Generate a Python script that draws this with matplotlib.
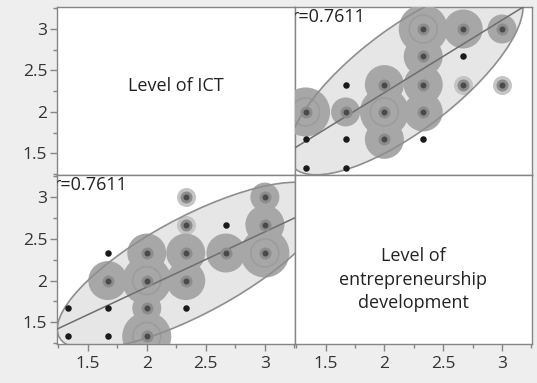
import numpy as np
import matplotlib.pyplot as plt
from matplotlib.patches import Ellipse
from matplotlib.ticker import MultipleLocator

plt.rcParams['font.family'] = ['Open Sans', 'DejaVu Sans']

# data (x = Level of ICT, y = Level of entrepreneurship development)
ict_vals = [1.33, 1.67, 2.0, 1.33, 1.67, 2.0, 2.33, 1.67, 2.0, 2.33,
            1.67, 2.0, 2.33, 2.67, 3.0, 2.33, 2.67, 3.0, 2.33, 3.0]
ent_vals = [1.33, 1.33, 1.33, 1.67, 1.67, 1.67, 1.67, 2.0, 2.0, 2.0,
            2.33, 2.33, 2.33, 2.33, 2.33, 2.67, 2.67, 2.67, 3.0, 3.0]
# local density level shown by the grey shading (0 = none, 4 = highest)
density_lvl = [0, 0, 4, 0, 0, 2, 0, 3, 4, 3,
               0, 3, 3, 3, 4, 1, 0, 3, 1, 2]

# summary statistics behind the density ellipse and the fit line
mean_ict = 2.39
mean_ent = 2.18
sd_ict = 0.469
sd_ent = 0.408
r_value = 0.7611

var_names = ['Level of ICT', 'Level of\nentrepreneurship\ndevelopment']
tick_vals = [1.5, 2, 2.5, 3]
tick_labels = ['1.5', '2', '2.5', '3']

W, H = 537, 383
fig = plt.figure(figsize=(W / 100, H / 100), dpi=100)
fig.patch.set_facecolor('#eeeeee')

def px(d):
    # marker size for a circle d pixels wide
    return (d * 0.72) ** 2

col_x = [57 / W, 295 / W]
col_w = [238 / W, 237 / W]
row_y = [(H - 175) / H, (H - 344) / H]
row_h = [168 / H, 169 / H]

def scatter_cell(ax, x, y, mx, my, sx, sy):
    x = np.array(x)
    y = np.array(y)
    lvl = np.array(density_lvl)

    # 95% density ellipse
    cov = np.array([[sx ** 2, r_value * sx * sy], [r_value * sx * sy, sy ** 2]])
    evals, evecs = np.linalg.eigh(cov)
    chi2 = 5.991
    angle = np.degrees(np.arctan2(evecs[1, 1], evecs[0, 1]))
    w = 2 * np.sqrt(chi2 * evals[1])
    h = 2 * np.sqrt(chi2 * evals[0])
    ax.add_patch(Ellipse((mx, my), w, h, angle=angle, facecolor='#e6e6e6',
                         edgecolor='none', zorder=1))

    # nonparametric density shading
    dense = lvl >= 2
    d = 10 * lvl[dense] + 9
    ax.scatter(x[lvl == 1], y[lvl == 1], s=px(19), color='#c4c4c4', lw=0, zorder=2)
    ax.scatter(x[dense], y[dense], s=px(d), color='#a7a7a7', lw=0, zorder=3)
    m = lvl == 4
    ax.scatter(x[m], y[m], s=px(28), facecolor='none', edgecolor='#9c9c9c', lw=1.2, zorder=3)

    ax.add_patch(Ellipse((mx, my), w, h, angle=angle, facecolor='none',
                         edgecolor='#8e8e8e', lw=1.2, zorder=4))

    # regression line
    slope = r_value * sy / sx
    xs = np.array([1.0, 3.6])
    ax.plot(xs, my + slope * (xs - mx), color='#6e6e6e', lw=1.1, zorder=5)

    m = lvl > 0
    ax.scatter(x[m], y[m], s=px(12), color='#8c8c8c', lw=0, zorder=6)
    ax.scatter(x[m], y[m], s=px(6), color='#4a4a4a', lw=0, zorder=7)
    ax.scatter(x[~m], y[~m], s=px(6.5), color='#1a1a1a', lw=0, zorder=7)

    ax.text(-0.014, 0.995, f'r={r_value:.4f}', transform=ax.transAxes, ha='left', va='top',
            fontsize=13, color='#222222', clip_on=True, zorder=8)

for i in range(2):
    for j in range(2):
        ax = fig.add_axes([col_x[j], row_y[i], col_w[j], row_h[i]])
        ax.set_facecolor('white')
        ax.set_xlim(1.24, 3.255)
        ax.set_ylim(1.24, 3.265)
        for sp in ax.spines.values():
            sp.set_color('#858585')
            sp.set_linewidth(1.0)
        ax.set_xticks(tick_vals, tick_labels)
        ax.set_yticks(tick_vals, tick_labels)
        ax.xaxis.set_minor_locator(MultipleLocator(0.25))
        ax.yaxis.set_minor_locator(MultipleLocator(0.25))
        ax.tick_params(which='major', direction='out', length=5, width=1, color='#858585',
                       labelsize=12.5, labelcolor='#333333', pad=2)
        ax.tick_params(axis='x', which='major', pad=4)
        ax.tick_params(which='minor', direction='out', length=3, width=1, color='#858585')
        if i == 0:
            ax.tick_params(axis='x', which='both', bottom=False, labelbottom=False)
        if j == 1:
            ax.tick_params(axis='y', which='both', left=False, labelleft=False)

        if i == j:
            ty = 0.53 if i == 0 else 0.38
            ax.text(0.5, ty, var_names[i], transform=ax.transAxes, ha='center', va='center',
                    fontsize=13, color='#222222', linespacing=1.4)
        elif i == 1:
            scatter_cell(ax, ict_vals, ent_vals, mean_ict, mean_ent, sd_ict, sd_ent)
        else:
            scatter_cell(ax, ent_vals, ict_vals, mean_ent, mean_ict, sd_ent, sd_ict)

fig.savefig('out.png', dpi=100, facecolor=fig.get_facecolor())
